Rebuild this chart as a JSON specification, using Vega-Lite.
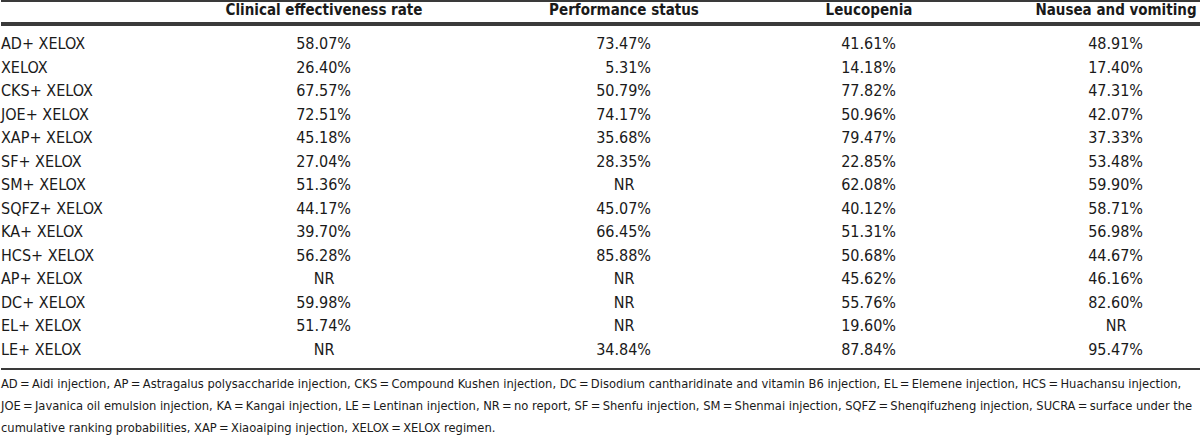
{
  "$schema": "https://vega.github.io/schema/vega-lite/v6.json",
  "padding": 0,
  "spacing": 0,
  "background": "white",
  "config": {
    "view": {"stroke": null},
    "concat": {"spacing": 0},
    "text": {"font": "DejaVu Sans Condensed, sans-serif", "color": "#1a1a1a"},
    "rule": {"color": "#3a3a3a", "strokeWidth": 2}
  },
  "datasets": {
    "table": [
      {"Regimen": "AD+ XELOX", "Clinical effectiveness rate": "58.07%", "Performance status": "73.47%", "Leucopenia": "41.61%", "Nausea and vomiting": "48.91%"},
      {"Regimen": "XELOX", "Clinical effectiveness rate": "26.40%", "Performance status": "5.31%", "Leucopenia": "14.18%", "Nausea and vomiting": "17.40%"},
      {"Regimen": "CKS+ XELOX", "Clinical effectiveness rate": "67.57%", "Performance status": "50.79%", "Leucopenia": "77.82%", "Nausea and vomiting": "47.31%"},
      {"Regimen": "JOE+ XELOX", "Clinical effectiveness rate": "72.51%", "Performance status": "74.17%", "Leucopenia": "50.96%", "Nausea and vomiting": "42.07%"},
      {"Regimen": "XAP+ XELOX", "Clinical effectiveness rate": "45.18%", "Performance status": "35.68%", "Leucopenia": "79.47%", "Nausea and vomiting": "37.33%"},
      {"Regimen": "SF+ XELOX", "Clinical effectiveness rate": "27.04%", "Performance status": "28.35%", "Leucopenia": "22.85%", "Nausea and vomiting": "53.48%"},
      {"Regimen": "SM+ XELOX", "Clinical effectiveness rate": "51.36%", "Performance status": "NR", "Leucopenia": "62.08%", "Nausea and vomiting": "59.90%"},
      {"Regimen": "SQFZ+ XELOX", "Clinical effectiveness rate": "44.17%", "Performance status": "45.07%", "Leucopenia": "40.12%", "Nausea and vomiting": "58.71%"},
      {"Regimen": "KA+ XELOX", "Clinical effectiveness rate": "39.70%", "Performance status": "66.45%", "Leucopenia": "51.31%", "Nausea and vomiting": "56.98%"},
      {"Regimen": "HCS+ XELOX", "Clinical effectiveness rate": "56.28%", "Performance status": "85.88%", "Leucopenia": "50.68%", "Nausea and vomiting": "44.67%"},
      {"Regimen": "AP+ XELOX", "Clinical effectiveness rate": "NR", "Performance status": "NR", "Leucopenia": "45.62%", "Nausea and vomiting": "46.16%"},
      {"Regimen": "DC+ XELOX", "Clinical effectiveness rate": "59.98%", "Performance status": "NR", "Leucopenia": "55.76%", "Nausea and vomiting": "82.60%"},
      {"Regimen": "EL+ XELOX", "Clinical effectiveness rate": "51.74%", "Performance status": "NR", "Leucopenia": "19.60%", "Nausea and vomiting": "NR"},
      {"Regimen": "LE+ XELOX", "Clinical effectiveness rate": "NR", "Performance status": "34.84%", "Leucopenia": "87.84%", "Nausea and vomiting": "95.47%"}
    ],
    "notes": [
      {"line": 1, "note": "AD\u2009=\u2009Aidi injection, AP\u2009=\u2009Astragalus polysaccharide injection, CKS\u2009=\u2009Compound Kushen injection, DC\u2009=\u2009Disodium cantharidinate and vitamin B6 injection, EL\u2009=\u2009Elemene injection, HCS\u2009=\u2009Huachansu injection,"},
      {"line": 2, "note": "JOE\u2009=\u2009Javanica oil emulsion injection, KA\u2009=\u2009Kangai injection, LE\u2009=\u2009Lentinan injection, NR\u2009=\u2009no report, SF\u2009=\u2009Shenfu injection, SM\u2009=\u2009Shenmai injection, SQFZ\u2009=\u2009Shenqifuzheng injection, SUCRA\u2009=\u2009surface under the"},
      {"line": 3, "note": "cumulative ranking probabilities, XAP\u2009=\u2009Xiaoaiping injection, XELOX\u2009=\u2009XELOX regimen."}
    ]
  },
  "vconcat": [
    {
      "bounds": "flush",
      "hconcat": [
        {"width": 106, "height": 22, "data": {"values": [{"col": ""}]},
         "layer": [
           {"data": {"values": [{"edge": "top"}]}, "mark": "rule", "encoding": {"y": {"value": 0}}},
           {"data": {"values": [{"edge": "bottom"}]}, "mark": "rule", "encoding": {"y": {"value": "height"}}},
           {"mark": {"type": "text", "fontWeight": "bold", "fontSize": 15, "baseline": "middle", "dy": -2},
            "encoding": {"text": {"field": "col"}}}
         ]},
        {"width": 434, "height": 22, "data": {"values": [{"col": "Clinical effectiveness rate"}]},
         "layer": [
           {"data": {"values": [{"edge": "top"}]}, "mark": "rule", "encoding": {"y": {"value": 0}}},
           {"data": {"values": [{"edge": "bottom"}]}, "mark": "rule", "encoding": {"y": {"value": "height"}}},
           {"mark": {"type": "text", "fontWeight": "bold", "fontSize": 15, "baseline": "middle", "dy": -2},
            "encoding": {"text": {"field": "col"}}}
         ]},
        {"width": 166, "height": 22, "data": {"values": [{"col": "Performance status"}]},
         "layer": [
           {"data": {"values": [{"edge": "top"}]}, "mark": "rule", "encoding": {"y": {"value": 0}}},
           {"data": {"values": [{"edge": "bottom"}]}, "mark": "rule", "encoding": {"y": {"value": "height"}}},
           {"mark": {"type": "text", "fontWeight": "bold", "fontSize": 15, "baseline": "middle", "dy": -2},
            "encoding": {"text": {"field": "col"}}}
         ]},
        {"width": 324, "height": 22, "data": {"values": [{"col": "Leucopenia"}]},
         "layer": [
           {"data": {"values": [{"edge": "top"}]}, "mark": "rule", "encoding": {"y": {"value": 0}}},
           {"data": {"values": [{"edge": "bottom"}]}, "mark": "rule", "encoding": {"y": {"value": "height"}}},
           {"mark": {"type": "text", "fontWeight": "bold", "fontSize": 15, "baseline": "middle", "dy": -2},
            "encoding": {"text": {"field": "col"}}}
         ]},
        {"width": 170, "height": 22, "data": {"values": [{"col": "Nausea and vomiting"}]},
         "layer": [
           {"data": {"values": [{"edge": "top"}]}, "mark": "rule", "encoding": {"y": {"value": 0}}},
           {"data": {"values": [{"edge": "bottom"}]}, "mark": "rule", "encoding": {"y": {"value": "height"}}},
           {"mark": {"type": "text", "fontWeight": "bold", "fontSize": 15, "baseline": "middle", "dy": -2},
            "encoding": {"text": {"field": "col"}}}
         ]}
      ]
    },
    {
      "bounds": "flush",
      "hconcat": [
        {"width": 106, "height": 344, "data": {"name": "table"},
         "layer": [
           {"data": {"values": [{"edge": "top"}]}, "mark": "rule", "encoding": {"y": {"value": 0}}},
           {"data": {"values": [{"edge": "bottom"}]}, "mark": "rule", "encoding": {"y": {"value": "height"}}},
           {"mark": {"type": "text", "fontSize": 16, "align": "left", "baseline": "middle"},
            "encoding": {
              "x": {"datum": "Regimen", "type": "nominal", "axis": null, "bandPosition": 0,
                    "scale": {"type": "band", "paddingInner": 0, "paddingOuter": 0}},
              "y": {"field": "Regimen", "type": "nominal", "axis": null,
                    "scale": {"type": "band", "paddingInner": 0, "paddingOuter": 0.32,
                              "domain": ["AD+ XELOX", "XELOX", "CKS+ XELOX", "JOE+ XELOX", "XAP+ XELOX", "SF+ XELOX", "SM+ XELOX", "SQFZ+ XELOX", "KA+ XELOX", "HCS+ XELOX", "AP+ XELOX", "DC+ XELOX", "EL+ XELOX", "LE+ XELOX"]}},
              "text": {"field": "Regimen"}}}
         ]},
        {"width": 434, "height": 344, "data": {"name": "table"},
         "layer": [
           {"data": {"values": [{"edge": "top"}]}, "mark": "rule", "encoding": {"y": {"value": 0}}},
           {"data": {"values": [{"edge": "bottom"}]}, "mark": "rule", "encoding": {"y": {"value": "height"}}},
           {"transform": [{"filter": "datum['Clinical effectiveness rate'] !== 'NR'"}],
            "mark": {"type": "text", "fontSize": 16, "align": "right", "baseline": "middle", "dx": 27},
            "encoding": {
              "y": {"field": "Regimen", "type": "nominal", "axis": null,
                    "scale": {"type": "band", "paddingInner": 0, "paddingOuter": 0.32,
                              "domain": ["AD+ XELOX", "XELOX", "CKS+ XELOX", "JOE+ XELOX", "XAP+ XELOX", "SF+ XELOX", "SM+ XELOX", "SQFZ+ XELOX", "KA+ XELOX", "HCS+ XELOX", "AP+ XELOX", "DC+ XELOX", "EL+ XELOX", "LE+ XELOX"]}},
              "text": {"field": "Clinical effectiveness rate"}}},
           {"transform": [{"filter": "datum['Clinical effectiveness rate'] === 'NR'"}],
            "mark": {"type": "text", "fontSize": 16, "align": "center", "baseline": "middle"},
            "encoding": {
              "y": {"field": "Regimen", "type": "nominal", "axis": null},
              "text": {"field": "Clinical effectiveness rate"}}}
         ]},
        {"width": 166, "height": 344, "data": {"name": "table"},
         "layer": [
           {"data": {"values": [{"edge": "top"}]}, "mark": "rule", "encoding": {"y": {"value": 0}}},
           {"data": {"values": [{"edge": "bottom"}]}, "mark": "rule", "encoding": {"y": {"value": "height"}}},
           {"transform": [{"filter": "datum['Performance status'] !== 'NR'"}],
            "mark": {"type": "text", "fontSize": 16, "align": "right", "baseline": "middle", "dx": 27},
            "encoding": {
              "y": {"field": "Regimen", "type": "nominal", "axis": null,
                    "scale": {"type": "band", "paddingInner": 0, "paddingOuter": 0.32,
                              "domain": ["AD+ XELOX", "XELOX", "CKS+ XELOX", "JOE+ XELOX", "XAP+ XELOX", "SF+ XELOX", "SM+ XELOX", "SQFZ+ XELOX", "KA+ XELOX", "HCS+ XELOX", "AP+ XELOX", "DC+ XELOX", "EL+ XELOX", "LE+ XELOX"]}},
              "text": {"field": "Performance status"}}},
           {"transform": [{"filter": "datum['Performance status'] === 'NR'"}],
            "mark": {"type": "text", "fontSize": 16, "align": "center", "baseline": "middle"},
            "encoding": {
              "y": {"field": "Regimen", "type": "nominal", "axis": null},
              "text": {"field": "Performance status"}}}
         ]},
        {"width": 324, "height": 344, "data": {"name": "table"},
         "layer": [
           {"data": {"values": [{"edge": "top"}]}, "mark": "rule", "encoding": {"y": {"value": 0}}},
           {"data": {"values": [{"edge": "bottom"}]}, "mark": "rule", "encoding": {"y": {"value": "height"}}},
           {"transform": [{"filter": "datum['Leucopenia'] !== 'NR'"}],
            "mark": {"type": "text", "fontSize": 16, "align": "right", "baseline": "middle", "dx": 27},
            "encoding": {
              "y": {"field": "Regimen", "type": "nominal", "axis": null,
                    "scale": {"type": "band", "paddingInner": 0, "paddingOuter": 0.32,
                              "domain": ["AD+ XELOX", "XELOX", "CKS+ XELOX", "JOE+ XELOX", "XAP+ XELOX", "SF+ XELOX", "SM+ XELOX", "SQFZ+ XELOX", "KA+ XELOX", "HCS+ XELOX", "AP+ XELOX", "DC+ XELOX", "EL+ XELOX", "LE+ XELOX"]}},
              "text": {"field": "Leucopenia"}}},
           {"transform": [{"filter": "datum['Leucopenia'] === 'NR'"}],
            "mark": {"type": "text", "fontSize": 16, "align": "center", "baseline": "middle"},
            "encoding": {
              "y": {"field": "Regimen", "type": "nominal", "axis": null},
              "text": {"field": "Leucopenia"}}}
         ]},
        {"width": 170, "height": 344, "data": {"name": "table"},
         "layer": [
           {"data": {"values": [{"edge": "top"}]}, "mark": "rule", "encoding": {"y": {"value": 0}}},
           {"data": {"values": [{"edge": "bottom"}]}, "mark": "rule", "encoding": {"y": {"value": "height"}}},
           {"transform": [{"filter": "datum['Nausea and vomiting'] !== 'NR'"}],
            "mark": {"type": "text", "fontSize": 16, "align": "right", "baseline": "middle", "dx": 27},
            "encoding": {
              "y": {"field": "Regimen", "type": "nominal", "axis": null,
                    "scale": {"type": "band", "paddingInner": 0, "paddingOuter": 0.32,
                              "domain": ["AD+ XELOX", "XELOX", "CKS+ XELOX", "JOE+ XELOX", "XAP+ XELOX", "SF+ XELOX", "SM+ XELOX", "SQFZ+ XELOX", "KA+ XELOX", "HCS+ XELOX", "AP+ XELOX", "DC+ XELOX", "EL+ XELOX", "LE+ XELOX"]}},
              "text": {"field": "Nausea and vomiting"}}},
           {"transform": [{"filter": "datum['Nausea and vomiting'] === 'NR'"}],
            "mark": {"type": "text", "fontSize": 16, "align": "center", "baseline": "middle"},
            "encoding": {
              "y": {"field": "Regimen", "type": "nominal", "axis": null},
              "text": {"field": "Nausea and vomiting"}}}
         ]}
      ]
    },
    {
      "width": 1200,
      "height": 72,
      "data": {"name": "notes"},
      "mark": {"type": "text", "fontSize": 12.8, "align": "left", "baseline": "middle"},
      "encoding": {
        "x": {"datum": "Notes", "type": "nominal", "axis": null, "bandPosition": 0,
              "scale": {"type": "band", "paddingInner": 0, "paddingOuter": 0}},
        "y": {"field": "line", "type": "ordinal", "axis": null,
              "scale": {"type": "band", "paddingInner": 0, "paddingOuter": 0.15}},
        "text": {"field": "note"}
      }
    }
  ]
}
